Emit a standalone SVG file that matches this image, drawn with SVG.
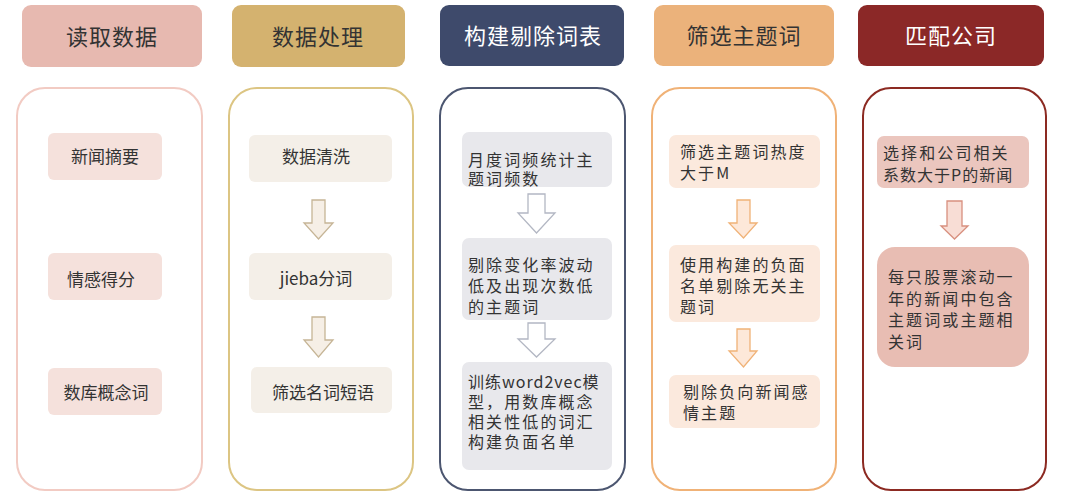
<svg xmlns="http://www.w3.org/2000/svg" width="1066" height="504" viewBox="0 0 1066 504">
<style>
.t{font-family:"Noto Sans CJK SC","Noto Sans",sans-serif;fill:#333333}
.h{font-size:22px;text-anchor:middle;letter-spacing:1px}
.c{font-size:17px;text-anchor:middle}
.l{font-size:16px;letter-spacing:2.1px}
.w{fill:#ffffff}
.outer{fill:#ffffff;stroke-width:2}
</style>
<rect width="1066" height="504" fill="#ffffff"/>
<g id="headers">
<g id="h1"><rect x="22" y="5" width="180" height="62" rx="9" fill="#e7b9b0"/><text class="t h" x="112" y="45">读取数据</text></g>
<g id="h2"><rect x="232" y="5" width="173" height="62" rx="9" fill="#d4b26f"/><text class="t h" x="318" y="45">数据处理</text></g>
<g id="h3"><rect x="440" y="5" width="184" height="61" rx="9" fill="#3e4a6b"/><text class="t h w" x="533" y="44">构建剔除词表</text></g>
<g id="h4"><rect x="654" y="5" width="180" height="61" rx="9" fill="#ebb27b"/><text class="t h" x="744" y="44">筛选主题词</text></g>
<g id="h5"><rect x="858" y="5" width="186" height="61" rx="9" fill="#8b2827"/><text class="t h w" x="951" y="44">匹配公司</text></g>
</g>
<g id="col1">
<rect class="outer" x="17" y="88" width="185" height="402" rx="28" stroke="#f2cbc3"/>
<g id="n1a"><rect x="48" y="133" width="114" height="47" rx="6" fill="#f5e1dc"/><text class="t c" x="105" y="163">新闻摘要</text></g>
<g id="n1b"><rect x="48" y="253" width="114" height="47" rx="6" fill="#f5e1dc"/><text class="t c" x="101" y="286">情感得分</text></g>
<g id="n1c"><rect x="48" y="368" width="114" height="47" rx="6" fill="#f5e1dc"/><text class="t c" x="106" y="399">数库概念词</text></g>
</g>
<g id="col2">
<rect class="outer" x="229" y="88" width="184" height="402" rx="28" stroke="#dcc583"/>
<g id="n2a"><rect x="249" y="135" width="143" height="47" rx="6" fill="#f4efe8"/><text class="t c" x="316" y="163">数据清洗</text></g>
<g id="n2b"><rect x="249" y="253" width="143" height="47" rx="6" fill="#f4efe8"/><text class="t c" x="316" y="285">jieba分词</text></g>
<g id="n2c"><rect x="251" y="367" width="141" height="46" rx="6" fill="#f4efe8"/><text class="t c" x="323" y="399">筛选名词短语</text></g>
</g>
<g id="col3">
<rect class="outer" x="440" y="88" width="185" height="402" rx="28" stroke="#4c5670"/>
<g id="n3a"><rect x="462" y="132" width="150" height="55" rx="7" fill="#e8e8ec"/><text class="t l" x="468" y="166"><tspan x="468">月度词频统计主</tspan><tspan x="468" dy="19">题词频数</tspan></text></g>
<g id="n3b"><rect x="462" y="238" width="150" height="82" rx="7" fill="#e8e8ec"/><text class="t l" x="468" y="271"><tspan x="468">剔除变化率波动</tspan><tspan x="468" dy="21">低及出现次数低</tspan><tspan x="468" dy="21">的主题词</tspan></text></g>
<g id="n3c"><rect x="462" y="362" width="150" height="108" rx="7" fill="#e8e8ec"/><text class="t l" x="468" y="388"><tspan x="468" letter-spacing="1px">训练word2vec模</tspan><tspan x="468" dy="20">型，用数库概念</tspan><tspan x="468" dy="20">相关性低的词汇</tspan><tspan x="468" dy="20">构建负面名单</tspan></text></g>
</g>
<g id="col4">
<rect class="outer" x="652" y="88" width="184" height="402" rx="28" stroke="#f0b277"/>
<g id="n4a"><rect x="669" y="135" width="151" height="53" rx="7" fill="#fbe9dd"/><text class="t l" x="680" y="158"><tspan x="680">筛选主题词热度</tspan><tspan x="680" dy="21">大于M</tspan></text></g>
<g id="n4b"><rect x="669" y="245" width="151" height="77" rx="7" fill="#fbe9dd"/><text class="t l" x="680" y="271"><tspan x="680">使用构建的负面</tspan><tspan x="680" dy="21">名单剔除无关主</tspan><tspan x="680" dy="21">题词</tspan></text></g>
<g id="n4c"><rect x="669" y="375" width="151" height="53" rx="7" fill="#fbe9dd"/><text class="t l" x="683" y="398"><tspan x="683">剔除负向新闻感</tspan><tspan x="683" dy="21">情主题</tspan></text></g>
</g>
<g id="col5">
<rect class="outer" x="863" y="88" width="183" height="402" rx="28" stroke="#8c2a22"/>
<g id="n5a"><rect x="877" y="136" width="152" height="52" rx="7" fill="#ebc6be"/><text class="t l" x="883" y="159"><tspan x="883">选择和公司相关</tspan><tspan x="883" dy="22" letter-spacing="1px">系数大于P的新闻</tspan></text></g>
<g id="n5b"><rect x="877" y="247" width="152" height="120" rx="18" fill="#e8bdb3"/><text class="t l" x="888" y="283"><tspan x="888">每只股票滚动一</tspan><tspan x="888" dy="21.5">年的新闻中包含</tspan><tspan x="888" dy="21.5">主题词或主题相</tspan><tspan x="888" dy="21.5">关词</tspan></text></g>
</g>
<g id="connectors">
<path d="M312,200 H325 V223 H333 L318.5,239 L304,223 H312 Z" fill="#f6efe6" stroke="#c6b596" stroke-width="1.3"/>
<path d="M312,317 H325 V340 H333 L318.5,357 L304,340 H312 Z" fill="#f6efe6" stroke="#c6b596" stroke-width="1.3"/>
<path d="M528,194 H545 V213 H555 L536.5,233 L518,213 H528 Z" fill="#ffffff" stroke="#b3b7c3" stroke-width="1.3"/>
<path d="M528,323 H545 V339 H555 L536.5,357 L518,339 H528 Z" fill="#ffffff" stroke="#b3b7c3" stroke-width="1.3"/>
<path d="M737,200 H750 V223 H757 L743.5,238 L729,223 H737 Z" fill="#fde8d9" stroke="#f0b277" stroke-width="1.3"/>
<path d="M737,329 H750 V351 H757 L743.5,367 L729,351 H737 Z" fill="#fde8d9" stroke="#f0b277" stroke-width="1.3"/>
<path d="M947,201 H962 V226 H968 L954.5,239 L941,226 H947 Z" fill="#f8ddd5" stroke="#d8907f" stroke-width="1.3"/>
</g>
</svg>
